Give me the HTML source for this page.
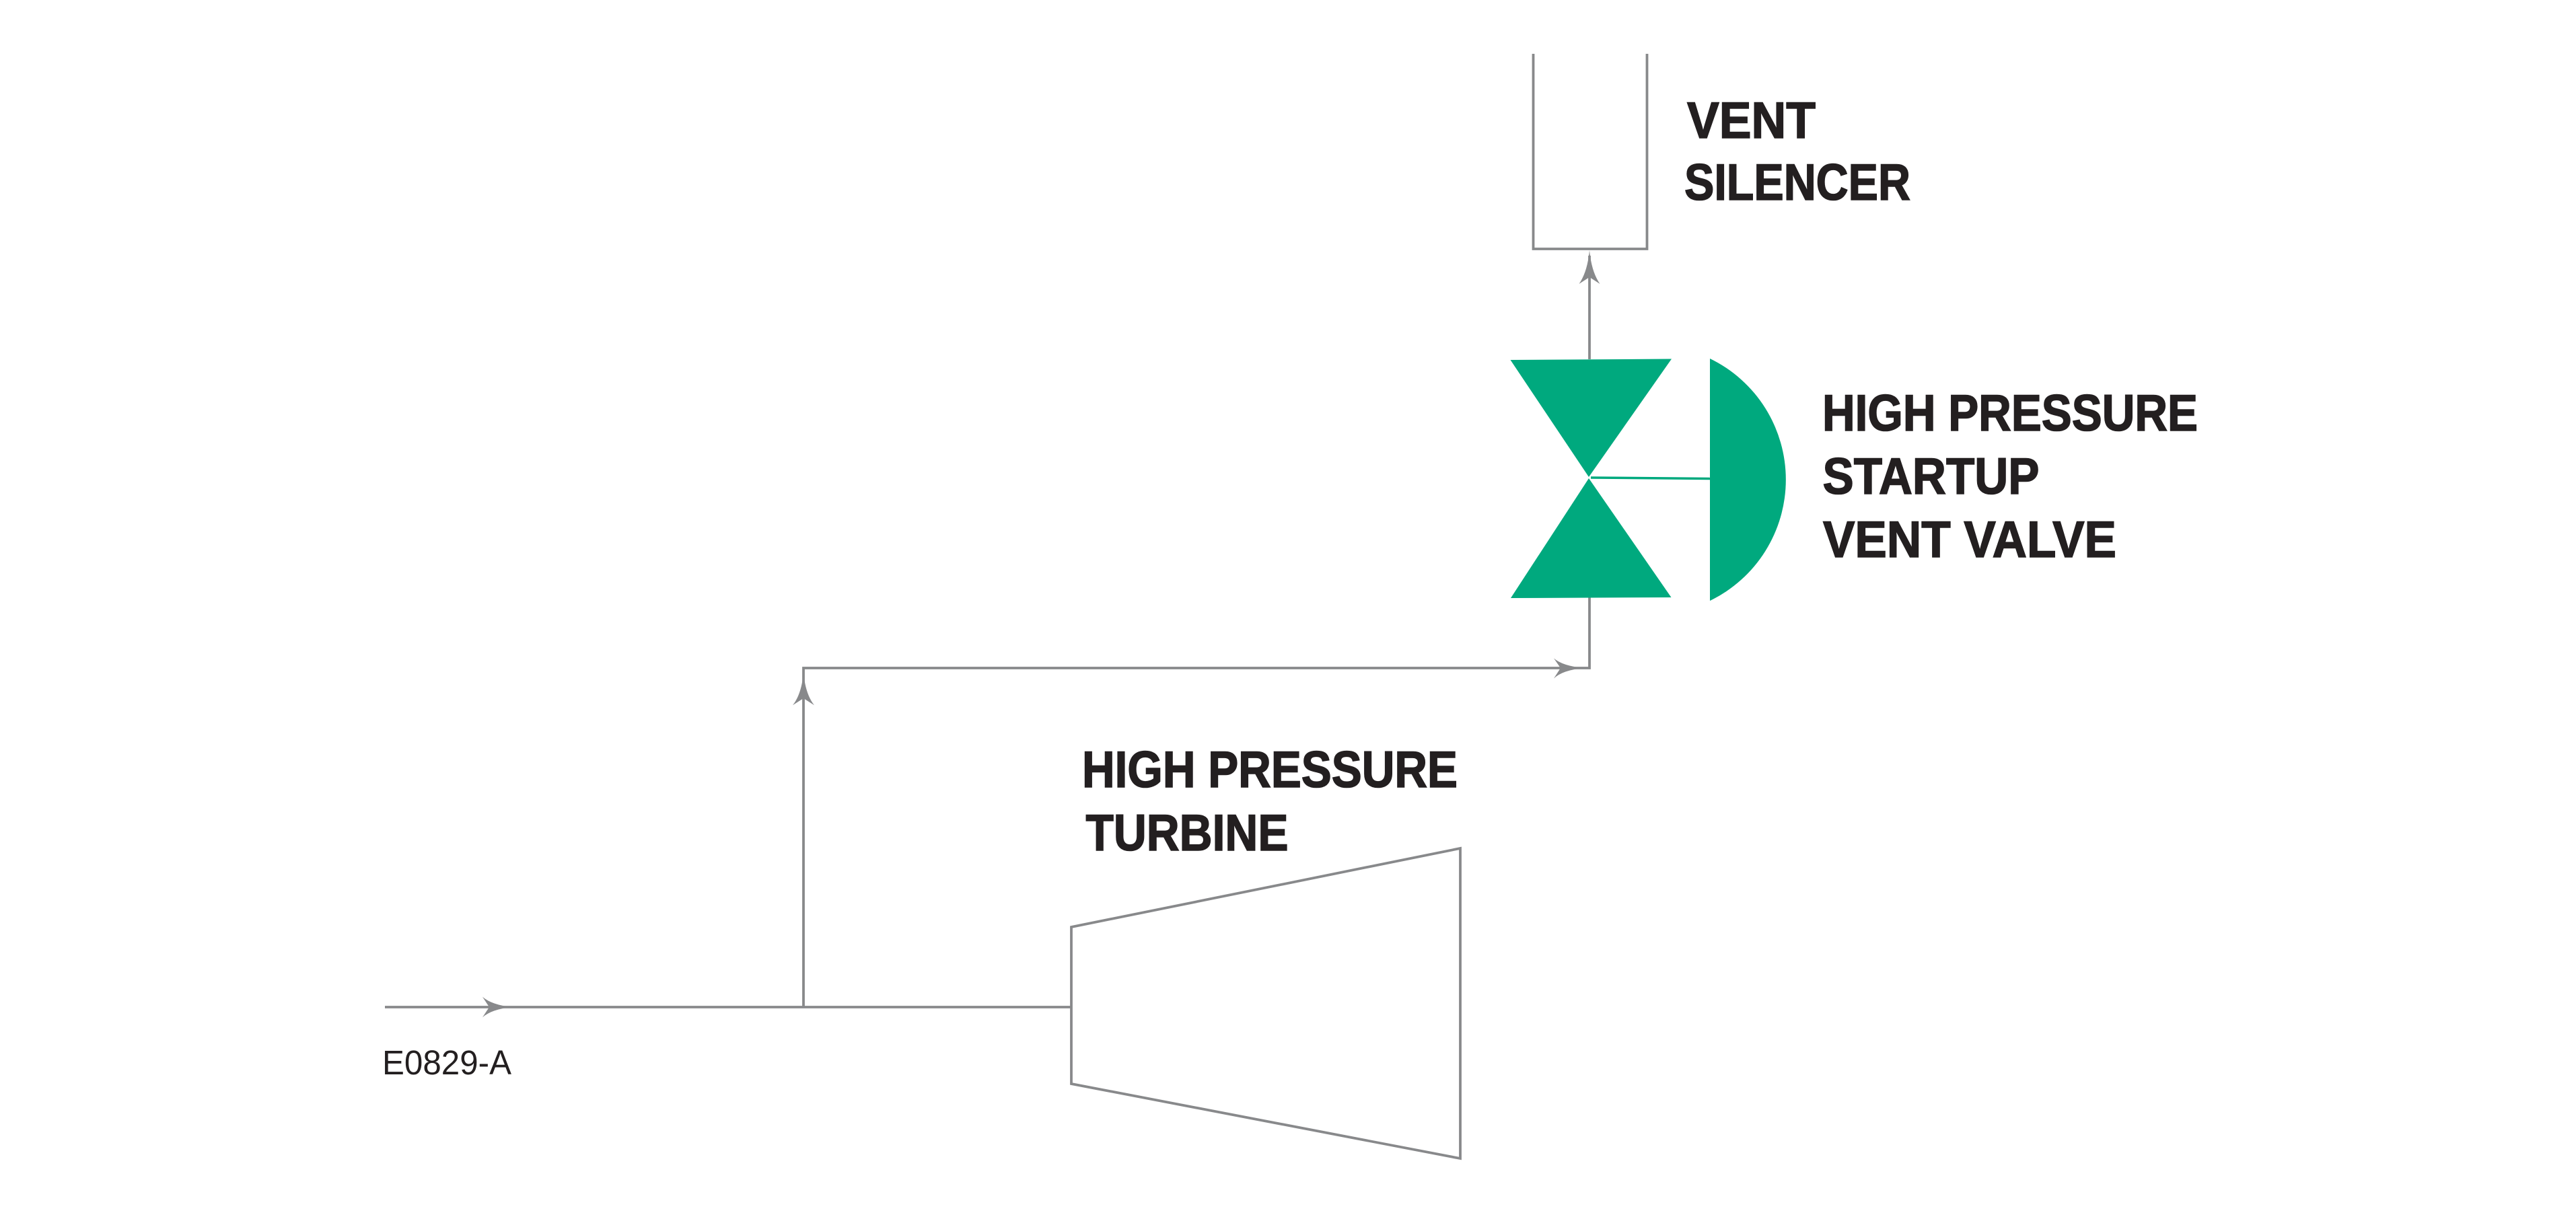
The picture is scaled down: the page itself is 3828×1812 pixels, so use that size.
<!DOCTYPE html>
<html>
<head>
<meta charset="utf-8">
<style>
  html, body { margin: 0; padding: 0; background: #ffffff; }
  body { width: 3828px; height: 1812px; overflow: hidden; }
  svg { display: block; }
  .lbl { font-family: "Liberation Sans", Arial, sans-serif; font-weight: bold; font-size: 76px; fill: #231f20; stroke: #231f20; stroke-width: 1.6px; }
  .code { font-family: "Liberation Sans", Arial, sans-serif; font-weight: normal; font-size: 51px; fill: #231f20; }
</style>
</head>
<body>
<svg width="3828" height="1812" viewBox="0 0 3828 1812" xmlns="http://www.w3.org/2000/svg">
  <rect x="0" y="0" width="3828" height="1812" fill="#ffffff"/>

  <!-- gray process lines -->
  <g fill="none" stroke="#88898b" stroke-width="3.8" stroke-linejoin="miter" stroke-linecap="butt">
    <!-- main inlet line -->
    <path d="M572,1497 H1592"/>
    <!-- branch to vent valve -->
    <path d="M1194,1497 V993 H2362 V888"/>
    <!-- valve to silencer -->
    <path d="M2362,534 V380"/>
    <!-- vent silencer (open top) -->
    <path d="M2278.5,80 V370 H2447.5 V80"/>
    <!-- turbine -->
    <path d="M1592,1378 L2170,1261 L2170,1722 L1592,1611 Z"/>
  </g>

  <!-- arrowheads -->
  <g fill="#88898b">
    <path d="M761,1497 Q731,1494 717,1481.8 L727,1497 L717,1512.2 Q731,1500 761,1497 Z"/>
    <path d="M1194,1000 Q1191,1032 1178,1048.3 L1194,1038 L1210,1048.3 Q1197,1032 1194,1000 Z"/>
    <path d="M2354,993 Q2322,990 2309,978.5 L2319,993 L2309,1008.5 Q2322,996 2354,993 Z"/>
    <path d="M2362,372 Q2359,404 2346.5,422 L2362,412 L2377.5,422 Q2365,404 2362,372 Z"/>
  </g>

  <!-- green control valve -->
  <g fill="#00a97e">
    <polygon points="2244.5,535 2484,533.5 2361,709"/>
    <polygon points="2245,889 2483.5,888 2361,711"/>
    <path d="M2541,533 A200,200 0 0 1 2541,893 Z"/>
  </g>
  <line x1="2364" y1="710" x2="2542" y2="711.5" stroke="#00a97e" stroke-width="3.5"/>

  <!-- labels -->
  <text class="lbl" x="2507" y="205" textLength="191" lengthAdjust="spacingAndGlyphs">VENT</text>
  <text class="lbl" x="2503" y="297" textLength="336" lengthAdjust="spacingAndGlyphs">SILENCER</text>

  <text class="lbl" x="2708" y="640" textLength="558" lengthAdjust="spacingAndGlyphs">HIGH PRESSURE</text>
  <text class="lbl" x="2708.5" y="734" textLength="322" lengthAdjust="spacingAndGlyphs">STARTUP</text>
  <text class="lbl" x="2709" y="828" textLength="436" lengthAdjust="spacingAndGlyphs">VENT VALVE</text>

  <text class="lbl" x="1608" y="1170" textLength="558" lengthAdjust="spacingAndGlyphs">HIGH PRESSURE</text>
  <text class="lbl" x="1613.5" y="1264" textLength="301" lengthAdjust="spacingAndGlyphs">TURBINE</text>

  <text class="code" x="568" y="1597" textLength="192" lengthAdjust="spacingAndGlyphs">E0829-A</text>
</svg>
</body>
</html>
